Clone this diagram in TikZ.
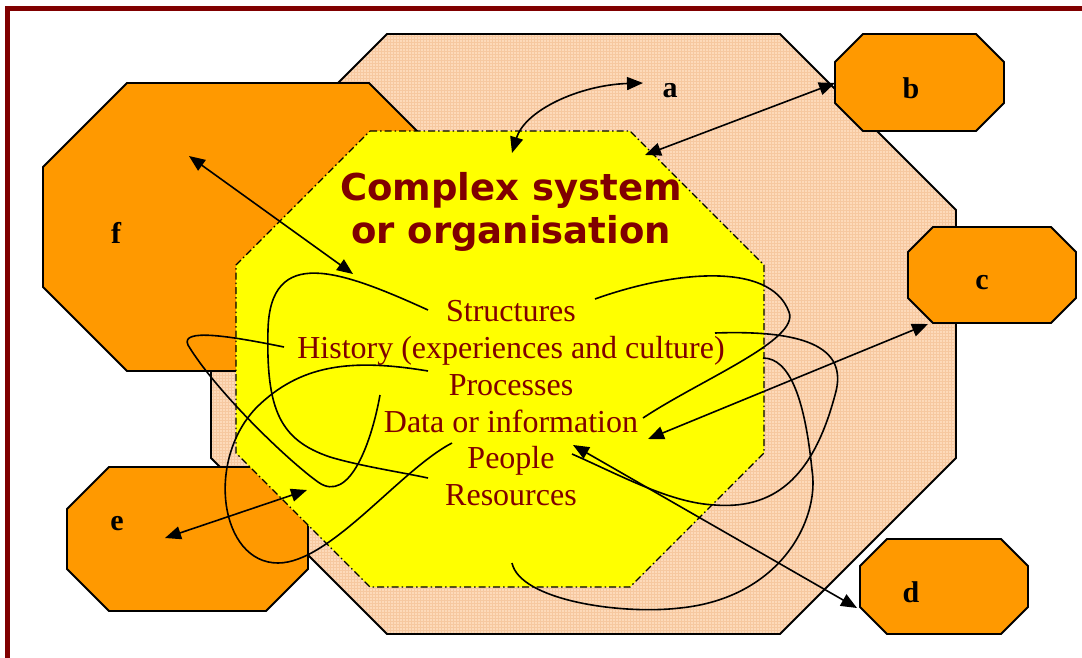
\documentclass[tikz,border=0pt]{standalone}
\usepackage{fontspec}
\setmainfont{Liberation Serif}
\newfontfamily\titlefamily{DejaVu Sans}
\usetikzlibrary{arrows.meta,patterns}
\definecolor{dred}{HTML}{800000}
\definecolor{peach}{HTML}{FDDABA}
\definecolor{peachgrid}{HTML}{F6C8A0}
\definecolor{orng}{HTML}{FF9900}
\definecolor{yel}{HTML}{FFFF00}
\newcommand\octo[6]{\path[#6] (#1+#5,#2) -- (#3-#5,#2) -- (#3,#2+#5) -- (#3,#4-#5) -- (#3-#5,#4) -- (#1+#5,#4) -- (#1,#4-#5) -- (#1,#2+#5) -- cycle;}
\tikzset{
  oct/.style={draw=black, line width=1.8pt, fill=orng, line join=miter},
  bigoct/.style={fill=peach,
    postaction={pattern=grid, pattern color=peachgrid},
    postaction={draw=black, line width=1.8pt, line join=miter}},
  coreoct/.style={draw=black, line width=1.3pt, fill=yel, dash pattern=on 7pt off 3pt on 1.5pt off 3pt},
  conn/.style={line width=1.6pt, black},
  tipA/.tip={Triangle[length=16pt,width=13pt]},
  biarrow/.style={conn, tipA-tipA},
  lbl/.style={font=\fontsize{30}{30}\selectfont\bfseries, anchor=base, inner sep=0pt},
  itemtxt/.style={font=\fontsize{32}{32}\selectfont, text=dred, anchor=base, inner sep=0pt},
  ttl/.style={font=\titlefamily\bfseries\fontsize{37}{37}\selectfont, text=dred, anchor=base, inner sep=0pt}
}
\begin{document}
\begin{tikzpicture}[x=1pt,y=-1pt]
\useasboundingbox (0,0) rectangle (1082,657);
\clip (0,0) rectangle (1082,657);
\fill[white] (0,0) rectangle (1082,657);
\draw[dred, line width=5pt] (7,700) -- (7,8) -- (1120,8);
% shapes
\octo{211}{34}{956}{634}{176}{bigoct}
\octo{43}{83}{453}{371}{84}{oct}
\octo{67}{467}{308}{611}{42}{oct}
\octo{236}{131}{764}{587}{134}{coreoct}
\octo{835}{34}{1004}{131}{28}{oct}
\octo{908}{227}{1076}{323}{25}{oct}
\octo{860}{539}{1028}{634}{27}{oct}
% labels
\node[lbl] (la) at (670,97) {a};
\node[lbl] (lb) at (911,98) {b};
\node[lbl] (lc) at (982,289) {c};
\node[lbl] (ld) at (911,602) {d};
\node[lbl] (le) at (117,530) {e};
\node[lbl] (lf) at (116,243) {f};
% title and items
\node[ttl] (t1) at (511,200) {Complex system};
\node[ttl] (t2) at (511,243) {or organisation};
\node[itemtxt] (i1) at (511,321) {Structures};
\node[itemtxt] (i2) at (511,358) {History (experiences and culture)};
\node[itemtxt] (i3) at (511,395) {Processes};
\node[itemtxt] (i4) at (511,432) {Data or information};
\node[itemtxt] (i5) at (511,468) {People};
\node[itemtxt] (i6) at (511,505) {Resources};
% curve end points
\coordinate (c1s) at (428,310); \coordinate (c1e) at (428,478);
\coordinate (c2s) at (284,347); \coordinate (c2e) at (380,395);
\coordinate (c3s) at (428,371); \coordinate (c3e) at (452,443);
\coordinate (c4s) at (595,299); \coordinate (c4e) at (643,418);
\coordinate (c5s) at (715,333); \coordinate (c5e) at (572,454);
\coordinate (c6s) at (512,563); \coordinate (c6e) at (763,358);
% curves
\draw[conn] (c1s) .. controls (340,270) and (270,245) .. (268,330) .. controls (266,410) and (280,440) .. (330,457) .. controls (360,466) and (400,472) .. (c1e);
\draw[conn] (c2s) .. controls (230,336) and (180,328) .. (188,345) .. controls (215,390) and (286,459) .. (318,482) .. controls (350,505) and (372,440) .. (c2e);
\draw[conn] (c3s) .. controls (350,358) and (300,365) .. (257,407) .. controls (205,460) and (220,563) .. (278,563) .. controls (330,563) and (400,470) .. (c3e);
\draw[conn] (c4s) .. controls (670,272) and (770,260) .. (789,312) .. controls (800,340) and (700,380) .. (c4e);
\draw[conn] (c5s) .. controls (800,330) and (850,345) .. (835,395) .. controls (815,470) and (780,510) .. (715,505) .. controls (670,503) and (620,475) .. (c5e);
\draw[conn] (c6s) .. controls (520,600) and (620,615) .. (680,608) .. controls (780,598) and (820,520) .. (812,470) .. controls (805,400) and (790,358) .. (c6e);
% arrow end points
\coordinate (fA) at (189,156); \coordinate (fB) at (353,274);
\coordinate (eA) at (165,538); \coordinate (eB) at (307,490);
\coordinate (bA) at (835,83);  \coordinate (bB) at (645,155);
\coordinate (cA) at (928,324); \coordinate (cB) at (648,439);
\coordinate (dA) at (857,608); \coordinate (dB) at (573,445);
\coordinate (aA) at (643,83);  \coordinate (aB) at (512,153);
% arrows
\draw[biarrow] (fA) -- (fB);
\draw[biarrow] (eA) -- (eB);
\draw[biarrow] (bA) -- (bB);
\draw[biarrow] (cA) -- (cB);
\draw[biarrow] (dA) -- (dB);
\draw[biarrow] (aB) .. controls (525,110) and (580,85) .. (aA);
\end{tikzpicture}
\end{document}
